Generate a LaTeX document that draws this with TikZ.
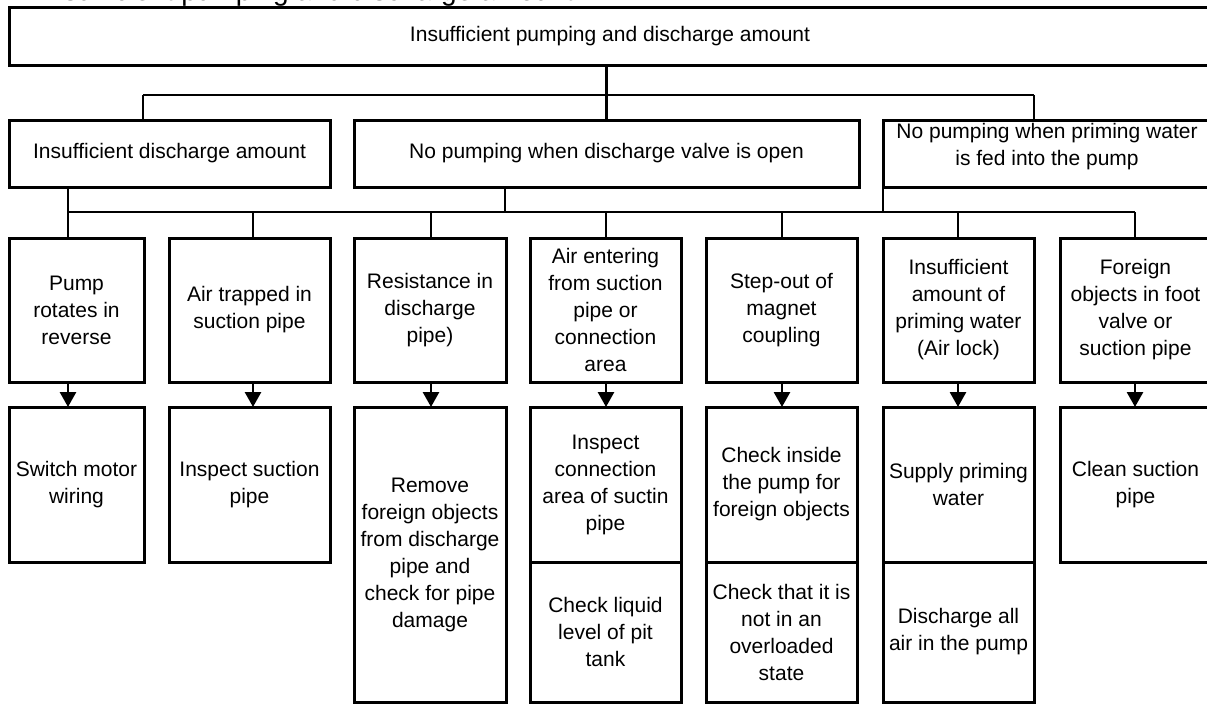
\documentclass[tikz,border=0pt]{standalone}
\usepackage{fontspec}
\setmainfont{Liberation Sans}
\usetikzlibrary{arrows.meta}
\begin{document}
\begin{tikzpicture}[x=1pt,y=-1pt,
  box/.style={draw, line width=3pt, rectangle, inner sep=1pt, outer sep=0pt,
    align=center, font=\fontsize{21}{27}\selectfont},
  txt/.style={inner sep=0pt, align=center, font=\fontsize{21}{27}\selectfont},
  conn/.style={line width=2.8pt},
  arr/.style={line width=2.8pt, -{Triangle[length=15pt,width=16pt]}}]
\useasboundingbox (0,0) rectangle (1207,704);
\fill[white] (0,0) rectangle (1207,704);

% cut-off heading at the top edge
\node[inner sep=0pt, anchor=base west, font=\fontsize{28}{32}\selectfont] (head) at (40,1) {Insufficient pumping and discharge amount};

% level 1
\node[box, minimum width=1231pt, minimum height=58pt] (T) at (624.5,36) {};
\node[txt] (Tt) at (610,36) {Insufficient pumping and discharge amount};

% level 2
\node[box, minimum width=321pt, minimum height=67pt] (A) at (169.5,153.5) {Insufficient discharge amount};
\node[box, minimum width=505pt, minimum height=67pt] (B) at (606.5,153.5) {No pumping when discharge valve is open};
\node[box, minimum width=357pt, minimum height=67pt] (C) at (1061.5,153.5) {};
\node[txt] (Ct) at (1047,147) {No pumping when priming water\\is fed into the pump};

% level 3
\node[box, minimum width=135pt, minimum height=144pt] (P1) at (76.5,310) {Pump\\rotates in\\reverse};
\node[box, minimum width=161pt, minimum height=144pt] (P2) at (249.5,310) {Air trapped in\\suction pipe};
\node[box, minimum width=152pt, minimum height=144pt] (P3) at (430,310) {Resistance in\\discharge\\pipe)};
\node[box, minimum width=151pt, minimum height=144pt] (P4) at (605.5,310) {Air entering\\from suction\\pipe or\\connection\\area};
\node[box, minimum width=151pt, minimum height=144pt] (P5) at (781.5,310) {Step-out of\\magnet\\coupling};
\node[box, minimum width=151pt, minimum height=144pt] (P6) at (958.5,310) {Insufficient\\amount of\\priming water\\(Air lock)};
\node[box, minimum width=151pt, minimum height=144pt] (P7) at (1135.5,310) {Foreign\\objects in foot\\valve or\\suction pipe};

% level 4
\node[box, minimum width=135pt, minimum height=155pt] (R1) at (76.5,484.5) {Switch motor\\wiring};
\node[box, minimum width=161pt, minimum height=155pt] (R2) at (249.5,484.5) {Inspect suction\\pipe};
\node[box, minimum width=152pt, minimum height=295pt] (R3) at (430,554.5) {Remove\\foreign objects\\from discharge\\pipe and\\check for pipe\\damage};
\node[box, minimum width=151pt, minimum height=155pt] (R4) at (605.5,484.5) {Inspect\\connection\\area of suctin\\pipe};
\node[box, minimum width=151pt, minimum height=140pt] (S4) at (605.5,632) {Check liquid\\level of pit\\tank};
\node[box, minimum width=151pt, minimum height=155pt] (R5) at (781.5,484.5) {Check inside\\the pump for\\foreign objects};
\node[box, minimum width=151pt, minimum height=140pt] (S5) at (781.5,632) {Check that it is\\not in an\\overloaded\\state};
\node[box, minimum width=151pt, minimum height=155pt] (R6) at (958.5,484.5) {Supply priming\\water};
\node[box, minimum width=151pt, minimum height=140pt] (S6) at (958.5,632) {Discharge all\\air in the pump};
\node[box, minimum width=151pt, minimum height=155pt] (R7) at (1135.5,484.5) {Clean suction\\pipe};

% connectors level 1 -> 2
\coordinate (b1w) at (143,95);
\coordinate (b1e) at (1034,95);
\draw[conn] (B.north |- T.south) -- (B.north);
\draw[conn] (b1w) -- (b1e);
\draw[conn] (b1w) -- (b1w |- A.north);
\draw[conn] (b1e) -- (b1e |- C.north);

% connectors level 2 -> 3
\coordinate (v1) at (68,212);
\coordinate (v2) at (253,212);
\coordinate (v3) at (431,212);
\coordinate (v4) at (606,212);
\coordinate (v5) at (782,212);
\coordinate (v6) at (958,212);
\coordinate (v7) at (1135,212);
\draw[conn] (v1) -- (v7);
\draw[conn] (A.south -| v1) -- (v1);
\draw[conn] (B.south -| 505,0) -- (505,212);
\draw[conn] (C.south west) -- (C.south west |- v1);
\foreach \i in {1,...,7}{
  \draw[conn] (v\i) -- (v\i |- P\i.north);
  \draw[arr] (P\i.south -| v\i) -- (R\i.north -| v\i);
}
\end{tikzpicture}
\end{document}
